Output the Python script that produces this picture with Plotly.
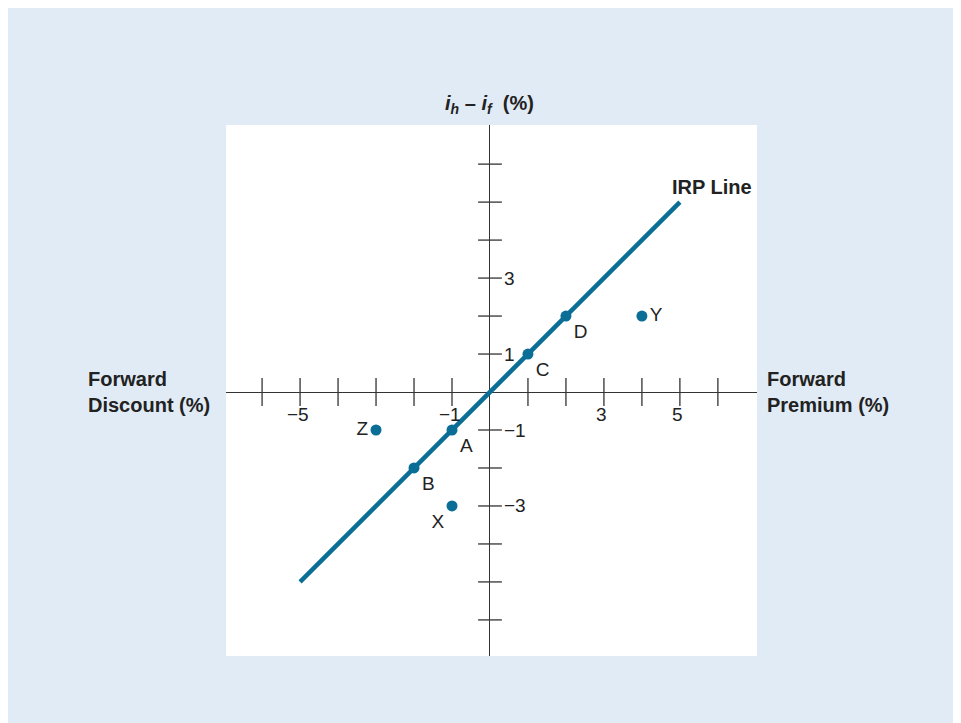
import plotly.graph_objects as go

# IRP line endpoints
irp_x = [-5, 5]
irp_y = [-5, 5]

# labelled points
pt_names = ["A", "B", "C", "D", "X", "Y", "Z"]
pt_x = [-1, -2, 1, 2, -1, 4, -3]
pt_y = [-1, -2, 1, 2, -3, 2, -1]
pt_pos = ["bottom right", "bottom right", "bottom right", "bottom right",
          "bottom left", "middle right", "middle left"]

# axis ticks and tick labels
tick_vals = [-6, -5, -4, -3, -2, -1, 1, 2, 3, 4, 5, 6]
x_label_vals = [-5, -1, 3, 5]
y_label_vals = [3, 1, -1, -3]

BLUE = "#0a6e96"
AXIS = "#333333"
BG = "#e1ebf6"
TXT = "#222222"
FONT = "Liberation Sans, Arial, sans-serif"


def fmt(v):
    return str(v).replace("-", "\u2212")


fig = go.Figure()

# tick marks on x axis
fig.add_trace(go.Scatter(
    x=tick_vals, y=[0] * len(tick_vals), mode="markers",
    marker=dict(symbol="line-ns", size=20, line=dict(color=AXIS, width=1.3)),
    hoverinfo="skip", showlegend=False))
# tick marks on y axis
fig.add_trace(go.Scatter(
    x=[0] * len(tick_vals), y=tick_vals, mode="markers",
    marker=dict(symbol="line-ew", size=17, line=dict(color=AXIS, width=1.3)),
    hoverinfo="skip", showlegend=False))

# IRP line
fig.add_trace(go.Scatter(
    x=irp_x, y=irp_y, mode="lines",
    line=dict(color=BLUE, width=4.5), hoverinfo="skip", showlegend=False))

# points
fig.add_trace(go.Scatter(
    x=pt_x, y=pt_y, mode="markers+text", text=pt_names, textposition=pt_pos,
    marker=dict(color=BLUE, size=11),
    textfont=dict(size=19, color=TXT, family=FONT),
    showlegend=False))

tick_font = dict(size=19, color=TXT, family=FONT)
annotations = []
for v in x_label_vals:
    annotations.append(dict(x=v, y=0, xref="x", yref="y", text=fmt(v),
                            showarrow=False, yshift=-22, xshift=-2, font=tick_font))
for v in y_label_vals:
    annotations.append(dict(x=0, y=v, xref="x", yref="y", text=fmt(v),
                            showarrow=False, xanchor="left", xshift=12,
                            font=tick_font))

ann_font = dict(size=20, color=TXT, family=FONT)
annotations += [
    dict(x=0, y=1.0, xref="x", yref="paper", yanchor="bottom",
         text="<b><i>i</i><sub><i>h</i></sub> \u2013 <i>i</i><sub><i>f</i></sub>  (%)</b>",
         showarrow=False, yshift=6, font=dict(size=20, color=TXT, family=FONT)),
    dict(x=0, y=0, xref="paper", yref="y", xanchor="right", align="left",
         text="<b>Forward<br>Discount (%)</b>", showarrow=False, xshift=-14,
         font=ann_font),
    dict(x=1, y=0, xref="paper", yref="y", xanchor="left", align="left",
         text="<b>Forward<br>Premium (%)</b>", showarrow=False, xshift=8,
         font=ann_font),
    dict(x=5, y=5, xref="x", yref="y", xanchor="left", yanchor="bottom",
         text="<b>IRP Line</b>", showarrow=False, xshift=-10, yshift=2,
         font=ann_font),
]

fig.update_layout(
    width=961, height=723,
    paper_bgcolor=BG, plot_bgcolor="white",
    margin=dict(l=218, r=212, t=117, b=75),
    annotations=annotations,
    xaxis=dict(range=[-6.95, 7.03], showgrid=False, showticklabels=False,
               ticks="", zeroline=True, zerolinecolor=AXIS, zerolinewidth=1.3,
               fixedrange=True),
    yaxis=dict(range=[-6.95, 7.03], showgrid=False, showticklabels=False,
               ticks="", zeroline=True, zerolinecolor=AXIS, zerolinewidth=1.3,
               fixedrange=True),
)

fig.write_html("out.html")
